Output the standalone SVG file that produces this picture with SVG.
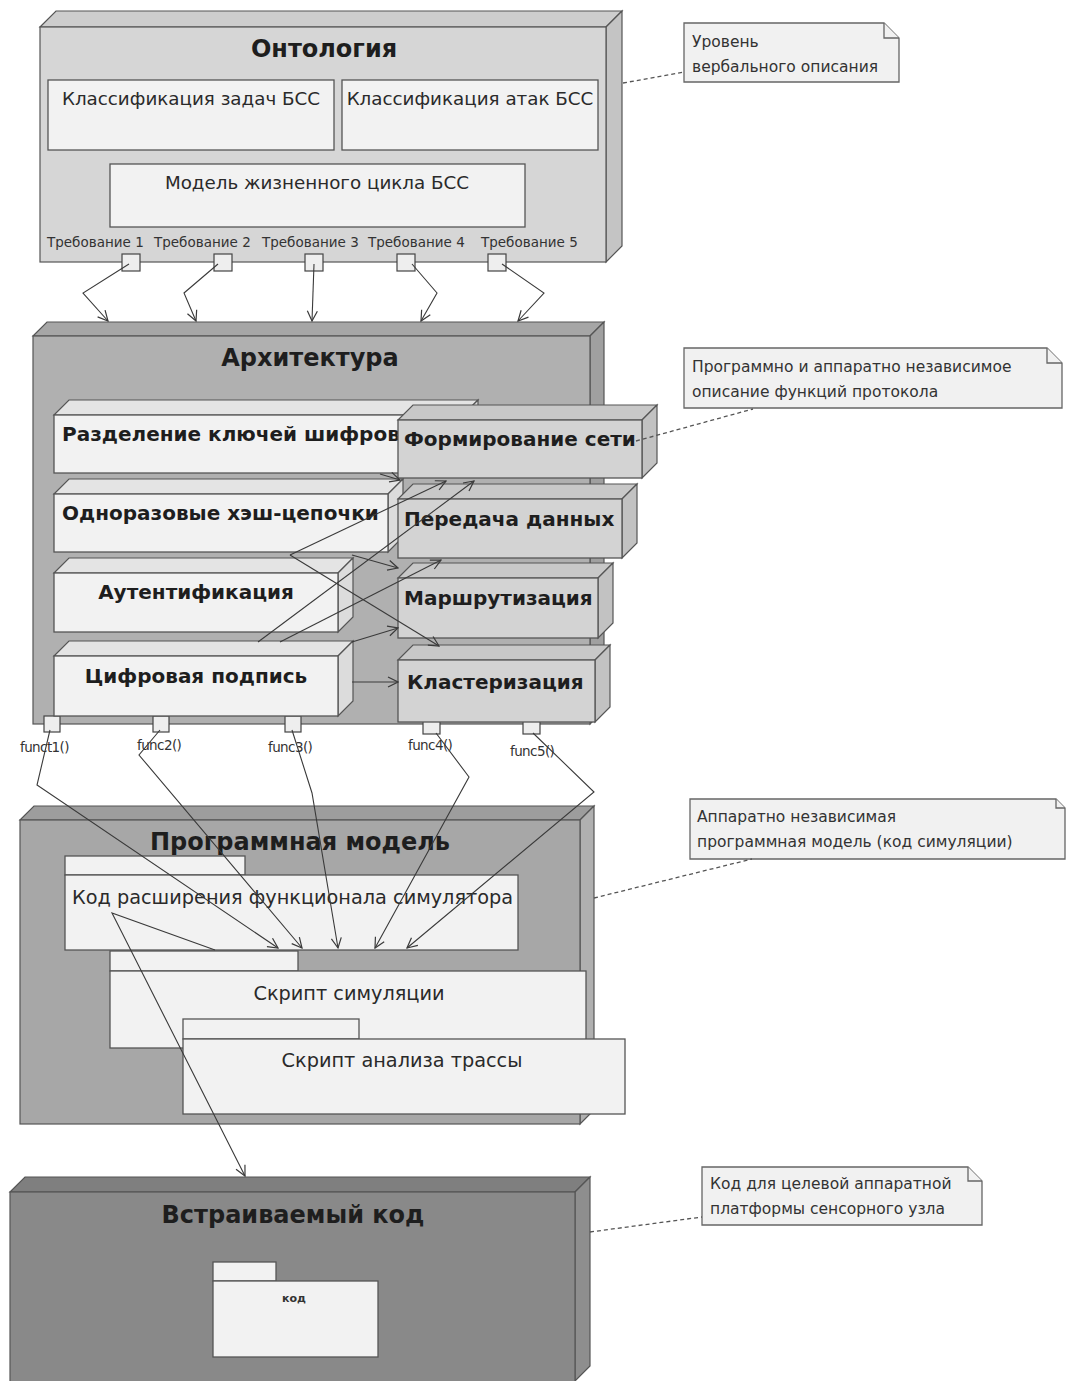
<svg xmlns="http://www.w3.org/2000/svg" width="1066" height="1381" viewBox="0 0 1066 1381">
<style>
text{font-family:"DejaVu Sans","Liberation Sans",sans-serif;fill:#1e1e1e}
.ttl{font-size:24px;font-weight:bold;text-anchor:middle}
.box{font-size:20px;font-weight:bold}
.cls{font-size:18.3px;fill:#2a2a2a}
.pkg{font-size:19.3px;fill:#2a2a2a}
.req{font-size:13.5px;fill:#333}
.fn{font-size:13.5px;fill:#333;letter-spacing:-0.6px}
.note{font-size:15.5px;fill:#333}
.edge{stroke:#555;stroke-width:1.2}
.wbox{fill:#f2f2f2;stroke:#555;stroke-width:1.3}
.gbox{fill:#d3d3d3;stroke:#555;stroke-width:1.3}
.port{fill:#eeeeee;stroke:#444;stroke-width:1.2}
.conn{fill:none;stroke:#3a3a3a;stroke-width:1.1}
.dash{fill:none;stroke:#555;stroke-width:1.3;stroke-dasharray:4 3}
.nt{fill:#f1f1f1;stroke:#666;stroke-width:1.3}
</style>
<defs>
<marker id="arr" viewBox="0 0 12 12" refX="11" refY="6" markerWidth="12" markerHeight="12" markerUnits="userSpaceOnUse" orient="auto">
<path d="M1,1 L11,6 L1,11" fill="none" stroke="#3a3a3a" stroke-width="1.2"/>
</marker>
</defs>
<rect width="1066" height="1381" fill="#ffffff"/>

<g id="ontology">
<polygon class="edge" fill="#cdcdcd" points="40,27 56,11 622,11 606,27"/>
<polygon class="edge" fill="#c4c4c4" points="606,27 622,11 622,246 606,262"/>
<rect class="edge" fill="#d6d6d6" x="40" y="27" width="566" height="235"/>
<text class="ttl" x="324" y="57">Онтология</text>
<g id="cls-tasks"><rect class="wbox" x="48" y="80" width="286" height="70"/><text class="cls" x="191" y="105" text-anchor="middle">Классификация задач БСС</text></g>
<g id="cls-attacks"><rect class="wbox" x="342" y="80" width="256" height="70"/><text class="cls" x="470" y="105" text-anchor="middle">Классификация атак БСС</text></g>
<g id="lifecycle"><rect class="wbox" x="110" y="164" width="415" height="63"/><text class="cls" x="317" y="189" text-anchor="middle">Модель жизненного цикла БСС</text></g>
<text class="req" x="47" y="247">Требование 1</text>
<text class="req" x="154" y="247">Требование 2</text>
<text class="req" x="262" y="247">Требование 3</text>
<text class="req" x="368" y="247">Требование 4</text>
<text class="req" x="481" y="247">Требование 5</text>
<rect class="port" x="122" y="254" width="18" height="17"/>
<rect class="port" x="214" y="254" width="18" height="17"/>
<rect class="port" x="305" y="254" width="18" height="17"/>
<rect class="port" x="397" y="254" width="18" height="17"/>
<rect class="port" x="488" y="254" width="18" height="17"/>
</g>

<g id="architecture">
<polygon class="edge" fill="#a6a6a6" points="33,336 47,322 604,322 590,336"/>
<polygon class="edge" fill="#a0a0a0" points="590,336 604,322 604,710 590,724"/>
<rect class="edge" fill="#b0b0b0" x="33" y="336" width="557" height="388"/>
<text class="ttl" x="310" y="366">Архитектура</text>
<rect class="port" x="44" y="716" width="16" height="16"/>
<rect class="port" x="153" y="716" width="16" height="16"/>
<rect class="port" x="285" y="716" width="16" height="16"/>
<rect class="port" x="423" y="718" width="17" height="16"/>
<rect class="port" x="523" y="718" width="17" height="16"/>
<text class="fn" x="20" y="752">funct1()</text>
<text class="fn" x="137" y="750">func2()</text>
<text class="fn" x="268" y="752">func3()</text>
<text class="fn" x="408" y="750">func4()</text>
<text class="fn" x="510" y="756">func5()</text>
</g>

<g id="key-split">
<polygon class="edge" fill="#e4e4e4" points="54,415 69,400 478,400 463,415"/>
<polygon class="edge" fill="#dcdcdc" points="463,415 478,400 478,458 463,473"/>
<rect class="wbox" x="54" y="415" width="409" height="58"/>
<text class="box" x="62" y="441">Разделение ключей шифров</text>
</g>
<g id="hash-chains">
<polygon class="edge" fill="#e4e4e4" points="54,494 69,479 403,479 388,494"/>
<polygon class="edge" fill="#dcdcdc" points="388,494 403,479 403,537 388,552"/>
<rect class="wbox" x="54" y="494" width="334" height="58"/>
<text class="box" x="62" y="520">Одноразовые хэш-цепочки</text>
</g>
<g id="auth">
<polygon class="edge" fill="#e4e4e4" points="54,573 69,558 353,558 338,573"/>
<polygon class="edge" fill="#dcdcdc" points="338,573 353,558 353,617 338,632"/>
<rect class="wbox" x="54" y="573" width="284" height="59"/>
<text class="box" x="196" y="599" text-anchor="middle">Аутентификация</text>
</g>
<g id="signature">
<polygon class="edge" fill="#e4e4e4" points="54,656 69,641 353,641 338,656"/>
<polygon class="edge" fill="#dcdcdc" points="338,656 353,641 353,701 338,716"/>
<rect class="wbox" x="54" y="656" width="284" height="60"/>
<text class="box" x="196" y="683" text-anchor="middle">Цифровая подпись</text>
</g>
<g id="net-form">
<polygon class="edge" fill="#c8c8c8" points="398,420 413,405 657,405 642,420"/>
<polygon class="edge" fill="#c2c2c2" points="642,420 657,405 657,463 642,478"/>
<rect class="gbox" x="398" y="420" width="244" height="58"/>
<text class="box" x="404" y="446">Формирование сети</text>
</g>
<g id="data-tx">
<polygon class="edge" fill="#c8c8c8" points="398,499 413,484 637,484 622,499"/>
<polygon class="edge" fill="#c2c2c2" points="622,499 637,484 637,543 622,558"/>
<rect class="gbox" x="398" y="499" width="224" height="59"/>
<text class="box" x="404" y="526">Передача данных</text>
</g>
<g id="routing">
<polygon class="edge" fill="#c8c8c8" points="398,578 413,563 613,563 598,578"/>
<polygon class="edge" fill="#c2c2c2" points="598,578 613,563 613,623 598,638"/>
<rect class="gbox" x="398" y="578" width="200" height="60"/>
<text class="box" x="404" y="605">Маршрутизация</text>
</g>
<g id="clustering">
<polygon class="edge" fill="#c8c8c8" points="398,660 413,645 610,645 595,660"/>
<polygon class="edge" fill="#c2c2c2" points="595,660 610,645 610,707 595,722"/>
<rect class="gbox" x="398" y="660" width="197" height="62"/>
<text class="box" x="407" y="689">Кластеризация</text>
</g>

<g id="program-model">
<polygon class="edge" fill="#9d9d9d" points="20,820 34,806 594,806 580,820"/>
<polygon class="edge" fill="#b0b0b0" points="580,820 594,806 594,1110 580,1124"/>
<rect class="edge" fill="#a7a7a7" x="20" y="820" width="560" height="304"/>
<text class="ttl" x="300" y="850">Программная модель</text>
</g>
<g id="ext-code">
<rect class="wbox" x="65" y="856" width="180" height="19"/>
<rect class="wbox" x="65" y="875" width="453" height="75"/>
<text class="pkg" x="72" y="904">Код расширения функционала симулятора</text>
</g>
<g id="sim-script">
<rect class="wbox" x="110" y="951" width="188" height="20"/>
<rect class="wbox" x="110" y="971" width="476" height="77"/>
<text class="pkg" x="349" y="1000" text-anchor="middle">Скрипт симуляции</text>
</g>
<g id="trace-script">
<rect class="wbox" x="183" y="1019" width="176" height="20"/>
<rect class="wbox" x="183" y="1039" width="442" height="75"/>
<text class="pkg" x="402" y="1067" text-anchor="middle">Скрипт анализа трассы</text>
</g>

<g id="embedded">
<polygon class="edge" fill="#7f7f7f" points="10,1192 25,1177 590,1177 575,1192"/>
<polygon class="edge" fill="#8e8e8e" points="575,1192 590,1177 590,1366 575,1381"/>
<rect class="edge" fill="#898989" x="10" y="1192" width="565" height="200"/>
<text class="ttl" x="293" y="1223">Встраиваемый код</text>
</g>
<g id="code-pkg">
<rect class="wbox" x="213" y="1262" width="63" height="19"/>
<rect class="wbox" x="213" y="1281" width="165" height="76"/>
<text x="294" y="1302" text-anchor="middle" style="font-size:11px;font-weight:bold;fill:#333">код</text>
</g>

<g id="note-verbal">
<path class="nt" d="M684,23 H884 L899,38 V82 H684 Z"/>
<path class="nt" d="M884,23 V38 H899" fill="none"/>
<text class="note" x="692" y="47">Уровень</text>
<text class="note" x="692" y="72">вербального описания</text>
</g>
<g id="note-protocol">
<path class="nt" d="M684,348 H1047 L1062,363 V408 H684 Z"/>
<path class="nt" d="M1047,348 V363 H1062" fill="none"/>
<text class="note" x="692" y="372">Программно и аппаратно независимое</text>
<text class="note" x="692" y="397">описание функций протокола</text>
</g>
<g id="note-sim">
<path class="nt" d="M690,799 H1056 L1065,808 V859 H690 Z"/>
<path class="nt" d="M1056,799 V808 H1065" fill="none"/>
<text class="note" x="697" y="822">Аппаратно независимая</text>
<text class="note" x="697" y="847">программная модель (код симуляции)</text>
</g>
<g id="note-target">
<path class="nt" d="M702,1167 H968 L982,1181 V1225 H702 Z"/>
<path class="nt" d="M968,1167 V1181 H982" fill="none"/>
<text class="note" x="710" y="1189">Код для целевой аппаратной</text>
<text class="note" x="710" y="1214">платформы сенсорного узла</text>
</g>

<g id="connectors">
<polyline class="conn" marker-end="url(#arr)" points="129,264 83,293 108,321"/>
<polyline class="conn" marker-end="url(#arr)" points="218,264 184,293 196,321"/>
<polyline class="conn" marker-end="url(#arr)" points="314,264 312,321"/>
<polyline class="conn" marker-end="url(#arr)" points="412,264 437,293 421,321"/>
<polyline class="conn" marker-end="url(#arr)" points="502,264 544,293 518,321"/>

<line class="conn" marker-end="url(#arr)" x1="380" y1="474" x2="400" y2="480"/>
<line class="conn" marker-end="url(#arr)" x1="290" y1="555" x2="446" y2="481"/>
<line class="conn" marker-end="url(#arr)" x1="290" y1="555" x2="439" y2="646"/>
<line class="conn" marker-end="url(#arr)" x1="352" y1="555" x2="398" y2="568"/>
<line class="conn" marker-end="url(#arr)" x1="258" y1="642" x2="474" y2="481"/>
<line class="conn" marker-end="url(#arr)" x1="280" y1="642" x2="441" y2="560"/>
<line class="conn" marker-end="url(#arr)" x1="352" y1="642" x2="398" y2="628"/>
<line class="conn" marker-end="url(#arr)" x1="352" y1="682" x2="398" y2="682"/>

<polyline class="conn" marker-end="url(#arr)" points="50,730 37,785 278,948"/>
<polyline class="conn" marker-end="url(#arr)" points="160,730 139,755 302,948"/>
<polyline class="conn" marker-end="url(#arr)" points="292,730 312,793 338,948"/>
<polyline class="conn" marker-end="url(#arr)" points="436,733 469,777 375,948"/>
<polyline class="conn" marker-end="url(#arr)" points="533,733 594,792 407,948"/>

<polyline class="conn" marker-end="url(#arr)" points="215,950 112,913 245,1176"/>

<line class="dash" x1="623" y1="83" x2="684" y2="72"/>
<line class="dash" x1="636" y1="441" x2="753" y2="409"/>
<line class="dash" x1="594" y1="898" x2="752" y2="859"/>
<line class="dash" x1="590" y1="1232" x2="702" y2="1217"/>
</g>
</svg>
